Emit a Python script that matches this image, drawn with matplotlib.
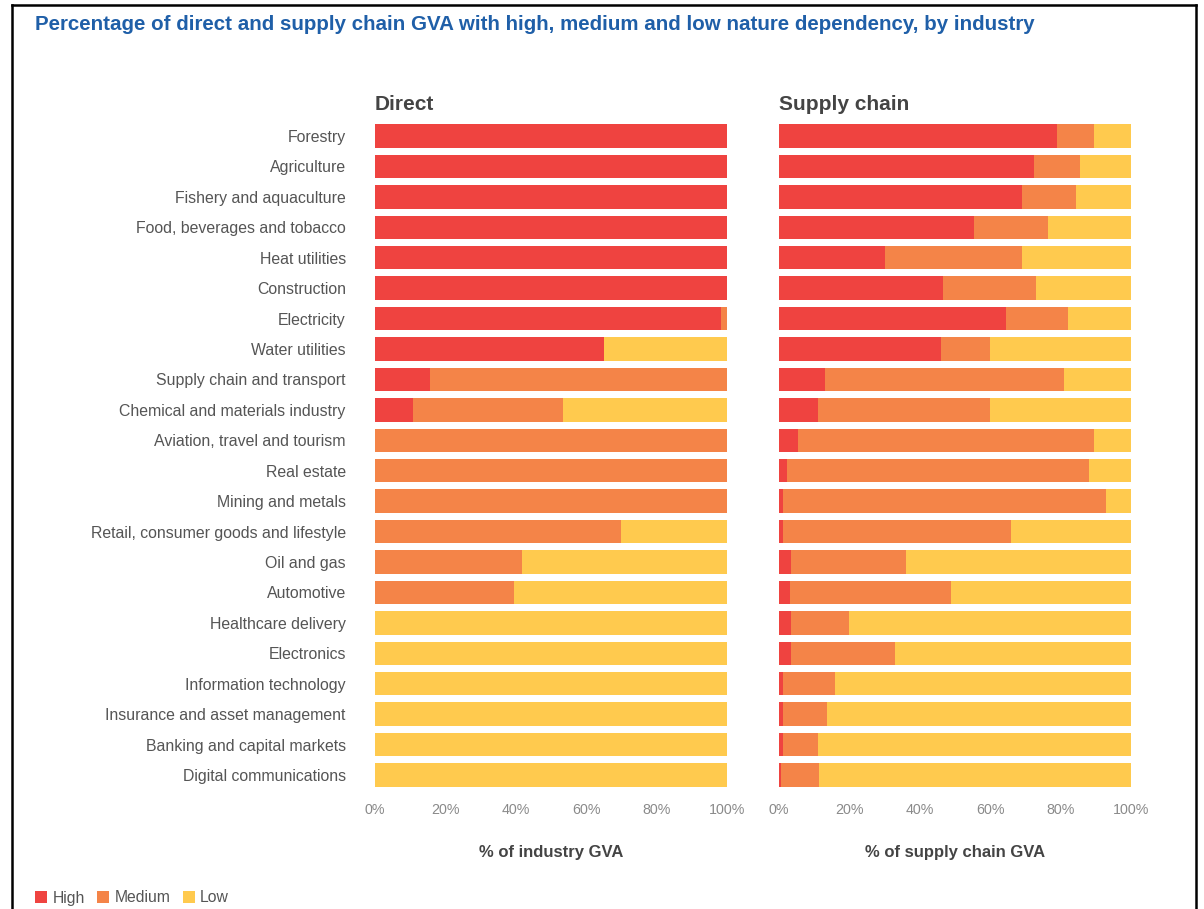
import matplotlib
matplotlib.use("Agg")
import matplotlib.pyplot as plt
from matplotlib.lines import Line2D
from matplotlib.patches import Patch

plt.rcParams['font.family'] = ['Liberation Sans', 'DejaVu Sans']

categories = [
    "Forestry", "Agriculture", "Fishery and aquaculture", "Food, beverages and tobacco",
    "Heat utilities", "Construction", "Electricity", "Water utilities",
    "Supply chain and transport", "Chemical and materials industry",
    "Aviation, travel and tourism", "Real estate", "Mining and metals",
    "Retail, consumer goods and lifestyle", "Oil and gas", "Automotive",
    "Healthcare delivery", "Electronics", "Information technology",
    "Insurance and asset management", "Banking and capital markets",
    "Digital communications",
]

direct_high = [100, 100, 100, 100, 100, 100, 98.4, 65, 15.5, 10.7, 0, 0, 0, 0, 0, 0, 0, 0, 0, 0, 0, 0]
direct_medium = [0, 0, 0, 0, 0, 0, 1.6, 0, 84.5, 42.7, 100, 100, 100, 70, 41.8, 39.4, 0, 0, 0, 0, 0, 0]
direct_low = [0, 0, 0, 0, 0, 0, 0, 35, 0, 46.6, 0, 0, 0, 30, 58.2, 60.6, 100, 100, 100, 100, 100, 100]

supply_high = [79, 72.5, 69, 55.5, 30, 46.5, 64.5, 46, 13, 11, 5.5, 2.2, 1, 1, 3.5, 3, 3.5, 3.5, 1, 1, 1, 0.6]
supply_medium = [10.5, 13, 15.5, 21, 39, 26.5, 17.5, 14, 68, 49, 84, 85.8, 92, 65, 32.5, 46, 16.5, 29.5, 15, 12.5, 10, 10.8]
supply_low = [10.5, 14.5, 15.5, 23.5, 31, 27, 18, 40, 19, 40, 10.5, 12, 7, 34, 64, 51, 80, 67, 84, 86.5, 89, 88.6]

tick_values = [0, 20, 40, 60, 80, 100]
tick_labels = ["0%", "20%", "40%", "60%", "80%", "100%"]
level_names = ["High", "Medium", "Low"]

colors = ["#EF4340", "#F48448", "#FFCA4E"]

W, H = 1204, 909
fig = plt.figure(figsize=(W / 100, H / 100), dpi=100)

top_px, bot_px = 120.8, 790.2
ax_b = 1 - bot_px / H
ax_h = (bot_px - top_px) / H
ax1 = fig.add_axes([375 / W, ax_b, 352 / W, ax_h])
ax2 = fig.add_axes([779 / W, ax_b, 352 / W, ax_h])

y = list(range(len(categories)))


def draw(ax, high, med, low, title, xlabel, show_labels):
    left = [0] * len(y)
    for vals, c in zip([high, med, low], colors):
        ax.barh(y, vals, left=left, height=0.77, color=c, linewidth=0)
        left = [a + b for a, b in zip(left, vals)]
    ax.set_xlim(0, 100)
    ax.set_ylim(len(y) - 0.5, -0.5)
    for s in ax.spines.values():
        s.set_visible(False)
    ax.set_xticks(tick_values)
    ax.set_xticklabels(tick_labels)
    ax.tick_params(axis='x', length=0, pad=9, labelsize=10.3, labelcolor="#8a8a8a")
    ax.set_yticks(y)
    if show_labels:
        ax.set_yticklabels(categories)
        ax.tick_params(axis='y', length=0, pad=21, labelsize=11.4, labelcolor="#555555")
    else:
        ax.set_yticklabels([])
        ax.tick_params(axis='y', length=0)
    pos = ax.get_position()
    fig.text(pos.x0, 1 - 104 / H, title, ha='left', va='center', fontsize=15,
             fontweight='bold', color="#444444")
    fig.text(pos.x0 + pos.width / 2, 1 - 852 / H, xlabel, ha='center', va='center',
             fontsize=12, fontweight='bold', color="#444444")


draw(ax1, direct_high, direct_medium, direct_low, "Direct", "% of industry GVA", True)
draw(ax2, supply_high, supply_medium, supply_low, "Supply chain", "% of supply chain GVA", False)

fig.text(35 / W, 1 - 25 / H,
         "Percentage of direct and supply chain GVA with high, medium and low nature dependency, by industry",
         ha='left', va='center', fontsize=14.8, fontweight='bold', color="#1F5FA8")

handles = [Patch(facecolor=c, edgecolor='none', label=n) for c, n in zip(colors, level_names)]
fig.legend(handles=handles, loc='center left', bbox_to_anchor=(35 / W, 1 - 898 / H),
           ncol=3, frameon=False, fontsize=11.3, handlelength=0.75, handleheight=0.75,
           handletextpad=0.35, columnspacing=0.8, borderaxespad=0, borderpad=0,
           labelcolor="#555555")

# frame
fig.add_artist(Line2D([12 / W, 12 / W], [0, 1 - 5 / H], color='black', lw=1.8))
fig.add_artist(Line2D([12 / W, 1196 / W], [1 - 5 / H, 1 - 5 / H], color='black', lw=1.8))
fig.add_artist(Line2D([1196 / W, 1196 / W], [0, 1 - 5 / H], color='black', lw=1.8))

fig.savefig("out.png", dpi=100)
